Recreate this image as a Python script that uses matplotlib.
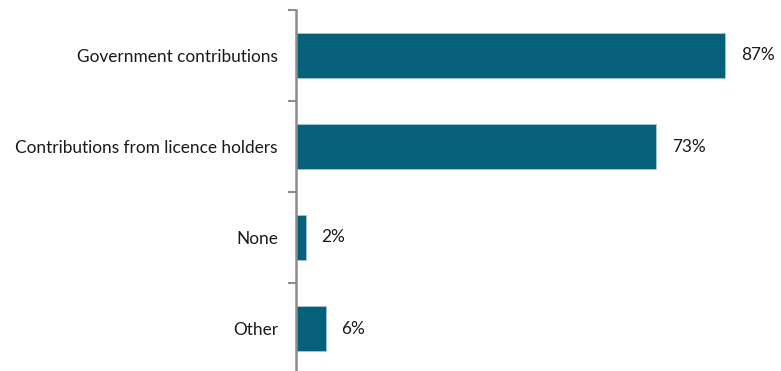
import matplotlib
matplotlib.use("Agg")
import matplotlib.pyplot as plt
import numpy as np

# ---------- data ----------
categories = ["Government contributions", "Contributions from licence holders", "None", "Other"]
values = [87, 73, 2, 6]
value_labels = ["87%", "73%", "2%", "6%"]

BAR_COLOR = "#05607A"
AXIS_COLOR = "#8C8C8C"
W, H, DPI = 781, 371, 100
# --------------------------

plt.rcParams["font.family"] = ["Lato", "DejaVu Sans"]

fig = plt.figure(figsize=(W / DPI, H / DPI), dpi=DPI)
# left spine sits at x=296px, top boundary at y=10px
ax = fig.add_axes([296 / W, -3 / H, (W - 296) / W, (374 - 10) / H])

y = np.arange(len(categories))
ax.barh(y, values, height=0.5, color=BAR_COLOR, edgecolor="#A9C6D3", linewidth=0.6)

for yi, v, lab in zip(y, values, value_labels):
    ax.text(v + 3.2, yi, lab, va="center", ha="left", fontsize=12.4, color="#1a1a1a")

ax.set_xlim(0, (W - 296) / 4.93)
ax.set_ylim(len(categories) - 0.5, -0.5)

ax.set_yticks(y)
ax.set_yticklabels(categories, fontsize=12.4, color="#1a1a1a")
ax.tick_params(axis="y", which="major", length=0, pad=13)
ax.set_yticks(np.arange(-0.5, len(categories)), minor=True)
ax.tick_params(axis="y", which="minor", length=6, width=1.5, color=AXIS_COLOR)
ax.set_xticks([])

for s in ["top", "right", "bottom"]:
    ax.spines[s].set_visible(False)
ax.spines["left"].set_color(AXIS_COLOR)
ax.spines["left"].set_linewidth(1.8)

fig.savefig("out.png", dpi=DPI)
